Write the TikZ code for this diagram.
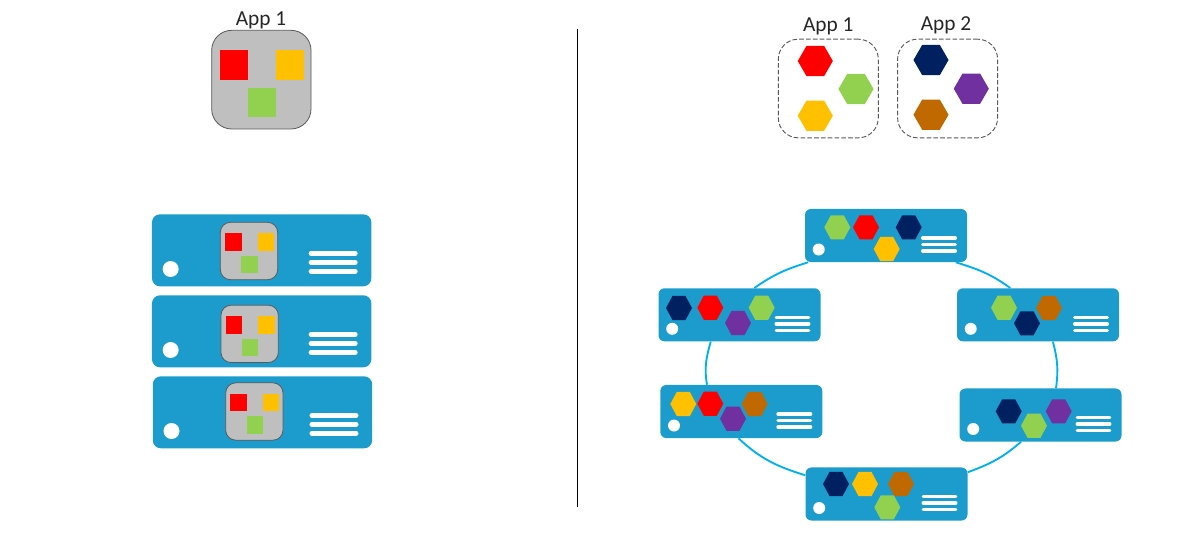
\documentclass[tikz,border=0pt]{standalone}
\usepackage{fontspec}
\setmainfont{Carlito}
\usetikzlibrary{shapes.geometric}

\definecolor{tilered}{HTML}{FF0000}
\definecolor{tileamber}{HTML}{FFC000}
\definecolor{tilegreen}{HTML}{92D050}
\definecolor{hexnavy}{HTML}{002060}
\definecolor{hexpurple}{HTML}{7030A0}
\definecolor{hexbrown}{HTML}{BF6900}
\definecolor{srvblue}{HTML}{1B9CCD}
\definecolor{ringblue}{HTML}{00B0F0}
\definecolor{appgray}{HTML}{BFBFBF}
\definecolor{edgegray}{HTML}{595959}

\tikzset{
  applabel/.style={anchor=base,font=\fontsize{16}{18}\selectfont,text=black!85,inner sep=0pt},
  appbig/.style={draw=edgegray,fill=appgray,line width=.6pt,rounded corners=15pt,inner sep=0pt,minimum width=74.5pt,minimum height=74pt},
  appmini/.style={draw=edgegray,fill=appgray,line width=.6pt,rounded corners=7.5pt,inner sep=0pt,minimum width=43pt,minimum height=43pt},
  appdash/.style={draw=edgegray,dash pattern=on 3.5pt off 1.6pt,line width=.7pt,rounded corners=15pt,inner sep=0pt,minimum width=75pt,minimum height=74pt},
  tilebig/.style={rectangle,inner sep=0pt,minimum width=21pt,minimum height=22.2pt},
  tilemini/.style={rectangle,inner sep=0pt,minimum width=12.3pt,minimum height=13pt},
  srvbig/.style={fill=srvblue,rounded corners=6pt,inner sep=0pt,minimum width=164.5pt,minimum height=54pt},
  srvsmall/.style={fill=srvblue,rounded corners=4.5pt,inner sep=0pt,minimum width=121.5pt,minimum height=39.8pt},
  dotbig/.style={circle,fill=white,inner sep=0pt,minimum size=12pt},
  dotsmall/.style={circle,fill=white,inner sep=0pt,minimum size=9pt},
  barbig/.style={draw=white,line width=3.8pt,line cap=round},
  barsmall/.style={draw=white,line width=2.6pt,line cap=round},
  hexbig/.style={regular polygon,regular polygon sides=6,inner sep=0pt,minimum size=26.3pt},
  hexsmall/.style={regular polygon,regular polygon sides=6,inner sep=0pt,minimum size=19.5pt,yscale=1.07,transform shape},
  ringline/.style={draw=ringblue,line width=1.4pt},
}

\begin{document}
\begin{tikzpicture}[x=.75pt,y=-.75pt]
\useasboundingbox (0,0) rectangle (1199,540);

% divider
\coordinate (divtop) at (577.7,29);
\coordinate (divbot) at (577.7,507);
\draw[line width=1.1pt] (divtop) -- (divbot);

% monolith app
\node[applabel] (lblmono) at (261,25) {App 1};
\node[appbig] (appmono) at (261.35,79.65) {};
\node[tilebig,fill=tilered] (monored) at (234.3,65) {};
\node[tilebig,fill=tileamber] (monoamber) at (290,65) {};
\node[tilebig,fill=tilegreen] (monogreen) at (262,102.5) {};

% servers on the left
\foreach \nm/\x/\y in {A/261.65/250.3,B/261.65/331.3,C/262.5/412.3}{
  \node[srvbig] (srv\nm) at (\x,\y) {};
  \node[dotbig] (dot\nm) at (\x-91,\y+18.7) {};
  \foreach \d in {3,12,21}
    \draw[barbig] (\x+49.5,\y+\d) -- (\x+93.5,\y+\d);
}

% app copies inside the servers
\foreach \nm/\x/\y in {A/249/251,B/249.65/333.85,C/254.35/411.5}{
  \node[appmini] (mini\nm) at (\x,\y) {};
  \node[tilemini,fill=tilered] (minired\nm) at (\x-15.7,\y-8.9) {};
  \node[tilemini,fill=tileamber] (miniamber\nm) at (\x+16.9,\y-8.9) {};
  \node[tilemini,fill=tilegreen] (minigreen\nm) at (\x+.5,\y+13.5) {};
}

% microservice apps
\node[applabel] (lblone) at (828.3,31) {App 1};
\node[applabel] (lbltwo) at (946,30) {App 2};
\node[appdash] (appone) at (828.3,88.5) {};
\node[appdash] (apptwo) at (947.6,88.5) {};
\foreach \nm/\x/\y/\c in {a/815.3/61/tilered,b/856/89/tilegreen,c/815.3/115.7/tileamber,
                          d/931/60/hexnavy,e/971.3/88.7/hexpurple,f/931/114.7/hexbrown}{
  \node[hexbig,fill=\c] (hexapp\nm) at (\x,\y) {};
}

% servers on the ring
\foreach \nm/\x/\y in {T/886/235.5,UR/1038/314.8,LR/1040.5/415,B/886.5/494,LL/741.3/411.5,UL/739.5/314.8}{
  \node[srvsmall] (ring\nm) at (\x,\y) {};
  \node[dotsmall] (ringdot\nm) at (\x-67.3,\y+14) {};
  \foreach \d in {2.5,9,15.5}
    \draw[barsmall] (\x+36.75,\y+\d) -- (\x+69.25,\y+\d);
}

% ring
\draw[ringline] (ringT.199) to[out=197,in=35] (ringUL.61);
\draw[ringline] (ringUL.223) to[out=254,in=100] (ringLL.142);
\draw[ringline] (ringLL.264) to[out=317,in=163] (ringB.167);
\draw[ringline] (ringB.15) to[out=20,in=221] (ringLR.234);
\draw[ringline] (ringLR.60) to[out=82,in=285] (ringUR.299);
\draw[ringline] (ringUR.136) to[out=144,in=343] (ringT.339);

% services on the ring
\foreach \nm/\x/\y/\c in {Ta/837.3/227.3/tilegreen,Tb/866/227.3/tilered,Tc/908.7/227.3/hexnavy,Td/886.7/249/tileamber,
                          Ra/1004/307.7/tilegreen,Rb/1049/308/hexbrown,Rc/1027/323.3/hexnavy,
                          Sa/1008.7/411.3/hexnavy,Sb/1058.7/411.3/hexpurple,Sc/1034/425.7/tilegreen,
                          Ba/836/484/hexnavy,Bb/865/484/tileamber,Bc/901/484/hexbrown,Bd/887.3/507.3/tilegreen,
                          La/683.3/404/tileamber,Lb/710.3/403.7/tilered,Lc/754.7/404/hexbrown,Ld/733/418.7/hexpurple,
                          Ua/679/308/hexnavy,Ub/710.3/307.7/tilered,Uc/738/323/hexpurple,Ud/761.7/307.7/tilegreen}{
  \node[hexsmall,fill=\c] (hex\nm) at (\x,\y) {};
}

\end{tikzpicture}
\end{document}
